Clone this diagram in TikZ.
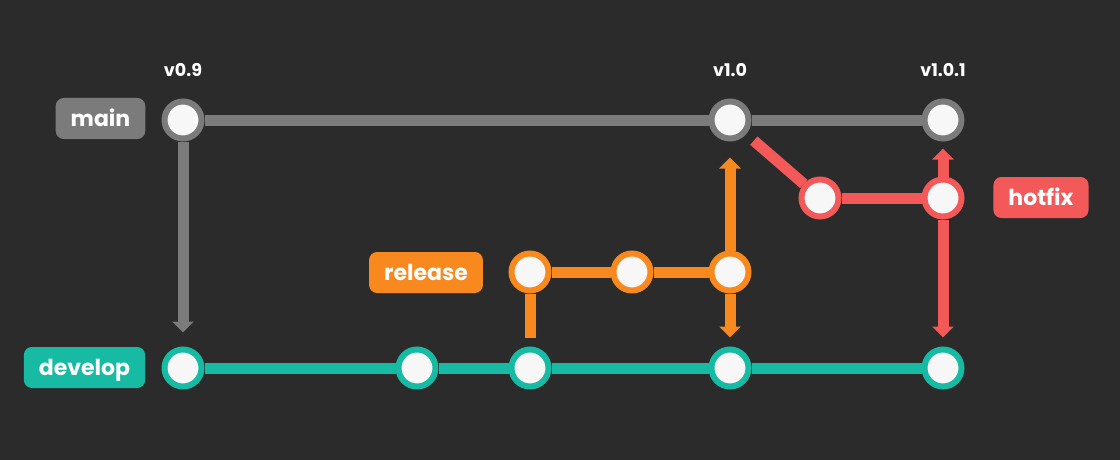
\documentclass[tikz,border=0pt]{standalone}
\usepackage{fontspec}
\setmainfont{Poppins}
\usetikzlibrary{arrows.meta}
\definecolor{bg}{HTML}{2B2B2B}
\definecolor{mainc}{HTML}{7B7B7B}
\definecolor{devc}{HTML}{17BBA3}
\definecolor{relc}{HTML}{F7891E}
\definecolor{fixc}{HTML}{F45959}
\definecolor{dot}{HTML}{F7F7F7}
\pgfdeclarelayer{backdrop}
\pgfdeclarelayer{wires}
\pgfsetlayers{backdrop,wires,main}
\tikzset{
  commit/.style={circle,draw=#1,fill=dot,line width=6pt,minimum size=37pt,inner sep=0pt},
  branch/.style={rounded corners=8pt,fill=#1,text=white,minimum height=41pt,inner xsep=15pt,
    text height=20pt,text depth=4pt,font=\fontsize{22}{25}\selectfont\bfseries},
  tag/.style={text=white,font=\fontsize{17.5}{21}\selectfont\bfseries},
  wire/.style={draw=#1,line width=11pt},
  merge/.style={draw=#1,line width=11pt,-{Triangle[width=21pt,length=11pt]}}}

\begin{document}
\begin{tikzpicture}[x=1pt,y=-1pt]
  \begin{pgfonlayer}{backdrop}
    \fill[bg] (0,0) rectangle (1120,460);
  \end{pgfonlayer}
  \useasboundingbox (0,0) rectangle (1120,460);
  % commits
  \node[commit=mainc] (m1) at (183,120) {};
  \node[commit=mainc] (m2) at (730,120) {};
  \node[commit=mainc] (m3) at (943,120) {};
  \node[commit=fixc] (h1) at (820,198) {};
  \node[commit=fixc] (h2) at (943,198) {};
  \node[commit=relc] (r1) at (530,272) {};
  \node[commit=relc] (r2) at (632,272) {};
  \node[commit=relc] (r3) at (730,272) {};
  \node[commit=devc] (d1) at (183,368) {};
  \node[commit=devc] (d2) at (417,368) {};
  \node[commit=devc] (d3) at (530,368) {};
  \node[commit=devc] (d4) at (730,368) {};
  \node[commit=devc] (d5) at (943,368) {};
  % branch names and tags
  \node[branch=mainc] (lmain) at (100.5,118.5) {main};
  \node[branch=devc] (ldev) at (84.5,367.5) {develop};
  \node[branch=relc] (lrel) at (426,272.5) {release};
  \node[branch=fixc] (lfix) at (1041,197.5) {hotfix};
  \node[tag] (t1) at (183,70) {v0.9};
  \node[tag] (t2) at (730,70) {v1.0};
  \node[tag] (t3) at (943,70) {v1.0.1};
  \begin{pgfonlayer}{wires}
    \draw[wire=mainc] (m1) -- (m2) -- (m3);
    \draw[wire=devc] (d1) -- (d2) -- (d3) -- (d4) -- (d5);
    \draw[wire=relc] (r1) -- (r2) -- (r3);
    \draw[wire=fixc] (h1) -- (h2);
    \draw[merge=mainc,shorten >=14pt] (m1) -- (d1);
    \draw[wire=relc,shorten >=9pt] (r1) -- (d3);
    \draw[merge=relc,shorten >=16pt] (r3) -- (m2);
    \draw[merge=relc,shorten >=9pt] (r3) -- (d4);
    \draw[wire=fixc,shorten <=10pt] (m2) -- (h1);
    \draw[merge=fixc,shorten >=7pt] (h2) -- (m3);
    \draw[merge=fixc,shorten >=9pt] (h2) -- (d5);
  \end{pgfonlayer}
\end{tikzpicture}
\end{document}
